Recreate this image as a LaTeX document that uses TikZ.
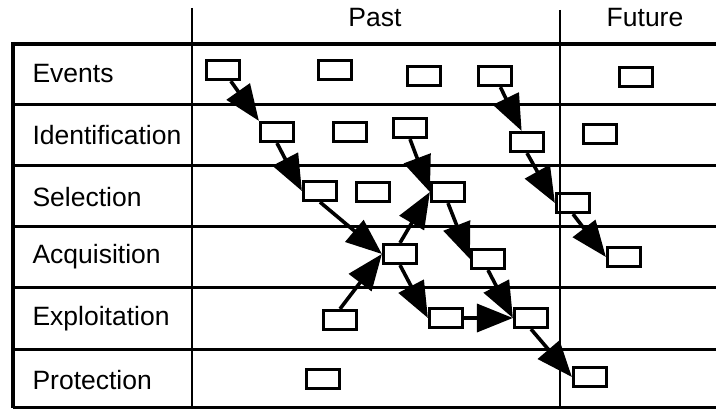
\documentclass[tikz,border=0pt]{standalone}
\usepackage{fontspec}
\setmainfont{Liberation Sans}
\usetikzlibrary{arrows.meta}

\begin{document}
\begin{tikzpicture}[x=1pt,y=-1pt,
  ev/.style={draw,line width=3.2pt,minimum width=33pt,minimum height=19pt,inner sep=0pt},
  flow/.style={line width=3.6pt,-{Triangle[length=36pt,width=28pt]}},
  lbl/.style={font=\fontsize{26.5}{30}\selectfont}]
\useasboundingbox (0,0) rectangle (716,409);

% grid
\draw[line width=4pt] (13,44) -- (716,44);
\draw[line width=4pt] (13,42) -- (13,408);
\foreach \y in {105,166,227,288,349,407}
\draw[line width=3pt] (13,\y) -- (716,\y);
\draw[line width=2.6pt] (192,8) -- (192,408);
\draw[line width=2.6pt] (560,10) -- (560,408);

\node[lbl] (past) at (375,18) {Past};
\node[lbl] (future) at (645,18) {Future};

\foreach \t/\y [count=\i] in {Events/74,Identification/135,Selection/197,Acquisition/257,Exploitation/319,Protection/380}
\node[lbl,anchor=west] (row\i) at (29,\y) {\t};

% events
\node[ev] (e1) at (223,70) {};
\node[ev] (e2) at (335,70) {};
\node[ev] (e3) at (424,76) {};
\node[ev] (e4) at (495,76) {};
\node[ev] (e5) at (636,77) {};
% identification
\node[ev] (i1) at (277,132) {};
\node[ev] (i2) at (350,132) {};
\node[ev] (i3) at (410,128) {};
\node[ev] (i4) at (527,142) {};
\node[ev] (i5) at (600,134) {};
% selection
\node[ev] (s1) at (320,191) {};
\node[ev] (s2) at (373,192) {};
\node[ev] (s3) at (448,192) {};
\node[ev] (s4) at (573,203) {};
% acquisition
\node[ev] (a1) at (400,254) {};
\node[ev] (a2) at (488,259) {};
\node[ev] (a3) at (624,257) {};
% exploitation
\node[ev] (x1) at (340,320) {};
\node[ev] (x2) at (446,318) {};
\node[ev] (x3) at (531,318) {};
% protection
\node[ev] (p1) at (323,379) {};
\node[ev] (p2) at (590,377) {};

\draw[flow] (e1) -- (i1.north west);
\draw[flow] (i1.south) -- (s1.west);
\draw[flow] (s1.south) -- (a1.west);
\draw[flow] (x1.north) -- (a1.west);
\draw[flow] (a1.north) -- (s3.west);
\draw[flow] (i3.south) -- (s3.west);
\draw[flow] (s3.south) -- (a2.west);
\draw[flow] (a1.south) -- (x2.west);
\draw[flow] (x2.east) -- (x3.west);
\draw[flow] (a2.south) -- (x3.west);
\draw[flow] (x3.south) -- (p2.west);
\draw[flow] (e4) -- (i4);
\draw[flow] (i4.south) -- (s4.west);
\draw[flow] (s4.south) -- (a3.west);

\end{tikzpicture}
\end{document}
